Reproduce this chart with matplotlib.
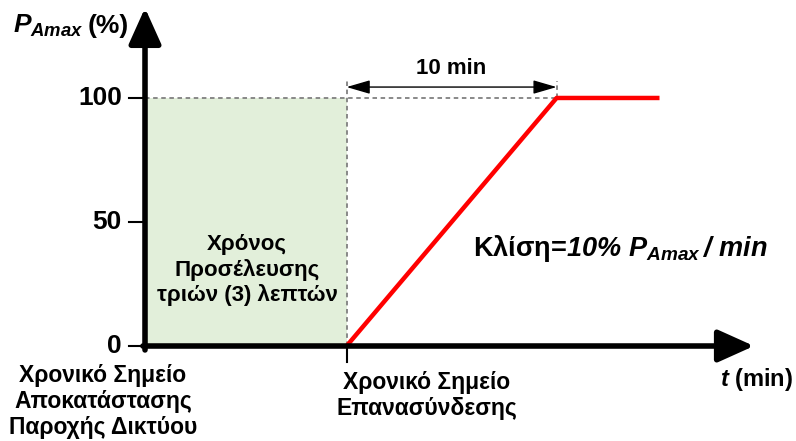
import matplotlib
matplotlib.use('Agg')
import matplotlib.pyplot as plt

# schematic time positions (min) and power (% of P_Amax)
t_restore = 0.0
t_reconnect = 9.6
ramp_t = [9.6, 19.6, 24.5]
ramp_p = [0, 100, 100]
yticks = [0, 50, 100]
ramp_minutes = 10


def main():
    plt.rcParams['font.family'] = ['Liberation Sans', 'DejaVu Sans']
    plt.rcParams['font.weight'] = 'bold'
    plt.rcParams['mathtext.fontset'] = 'custom'
    plt.rcParams['mathtext.rm'] = 'Liberation Sans:italic:bold'
    plt.rcParams['mathtext.it'] = 'Liberation Sans:italic:bold'
    plt.rcParams['mathtext.bf'] = 'Liberation Sans:bold'

    fig = plt.figure(figsize=(7.96, 4.41), dpi=100)
    ax = fig.add_axes([0, 0, 1, 1])
    ax.set_xlim(-6.905, 31.0)
    ax.set_ylim(-38.3, 139.5)
    ax.axis('off')

    # grace period region
    ax.fill_between([t_restore, t_reconnect], 0, 100, color='#E2EFDA', lw=0, zorder=1)

    # dashed guides
    dash = dict(color='#808080', lw=1.3, ls=(0, (2.5, 2)), zorder=2)
    ax.plot([t_restore, ramp_t[1]], [100, 100], **dash)
    ax.plot([t_reconnect, t_reconnect], [0, 107], **dash)
    ax.plot([ramp_t[1], ramp_t[1]], [100, 107], **dash)

    # ramp
    ax.plot(ramp_t, ramp_p, color='#FF0000', lw=3.2, solid_capstyle='butt', zorder=4)

    # axes with arrows
    head = '-|>,head_length=1.0,head_width=0.45'
    ax.annotate('', xy=(t_restore, 136.3), xytext=(t_restore, -1.6),
                arrowprops=dict(arrowstyle=head, lw=4, color='black', shrinkA=0,
                                shrinkB=0, mutation_scale=22), zorder=5)
    ax.annotate('', xy=(29.0, 0), xytext=(-0.1, 0),
                arrowprops=dict(arrowstyle=head, lw=4, color='black', shrinkA=0,
                                shrinkB=0, mutation_scale=22), zorder=5)

    # y ticks
    for v in yticks:
        ax.plot([-0.75, 0], [v, v], color='black', lw=1.5, zorder=5)
        ax.text(-1.1, v, str(v), ha='right', va='center', fontsize=19, fontweight='bold')
    # x tick at reconnection
    ax.plot([t_reconnect, t_reconnect], [0, -6.5], color='black', lw=1.5, zorder=5)

    # 10 min dimension arrow
    ax.annotate('', xy=(ramp_t[1], 104.4), xytext=(t_reconnect, 104.4),
                arrowprops=dict(arrowstyle='<|-|>,head_length=1.2,head_width=0.35',
                                lw=1, color='black', shrinkA=0, shrinkB=0,
                                mutation_scale=12), zorder=5)
    ax.text((t_reconnect + ramp_t[1]) / 2, 112, '%d min' % ramp_minutes,
            ha='center', va='center', fontsize=16, fontweight='bold')

    # labels
    ax.text(-6.3, 129, r'$P_{Amax}$', ha='left', va='center', fontsize=19,
            fontweight='bold')
    ax.text(-2.75, 129, '(%)', ha='left', va='center', fontsize=19,
            fontweight='bold')
    ax.text(31.0 - 0.15, -13.7, r'$t$ (min)', ha='right', va='center', fontsize=17,
            fontweight='bold')
    ax.text(4.86, 30.6, 'Χρόνος\nΠροσέλευσης\nτριών (3) λεπτών', ha='center',
            va='center', fontsize=16, fontweight='bold', linespacing=1.2)
    ax.text(15.6, 39.5, r'Κλίση=$10\%\ P_{Amax}\,/\ min$', ha='left',
            va='center', fontsize=19.5, fontweight='bold')
    ax.text(-2.0, -22.2, 'Χρονικό Σημείο\nΑποκατάστασης\nΠαροχής Δικτύου',
            ha='center', va='center', fontsize=16.5, fontweight='bold', linespacing=1.17)
    ax.text(13.4, -19.8, 'Χρονικό Σημείο\nΕπανασύνδεσης', ha='center',
            va='center', fontsize=16.5, fontweight='bold', linespacing=1.17)

    fig.savefig('out.png', dpi=100)


if __name__ == '__main__':
    main()
